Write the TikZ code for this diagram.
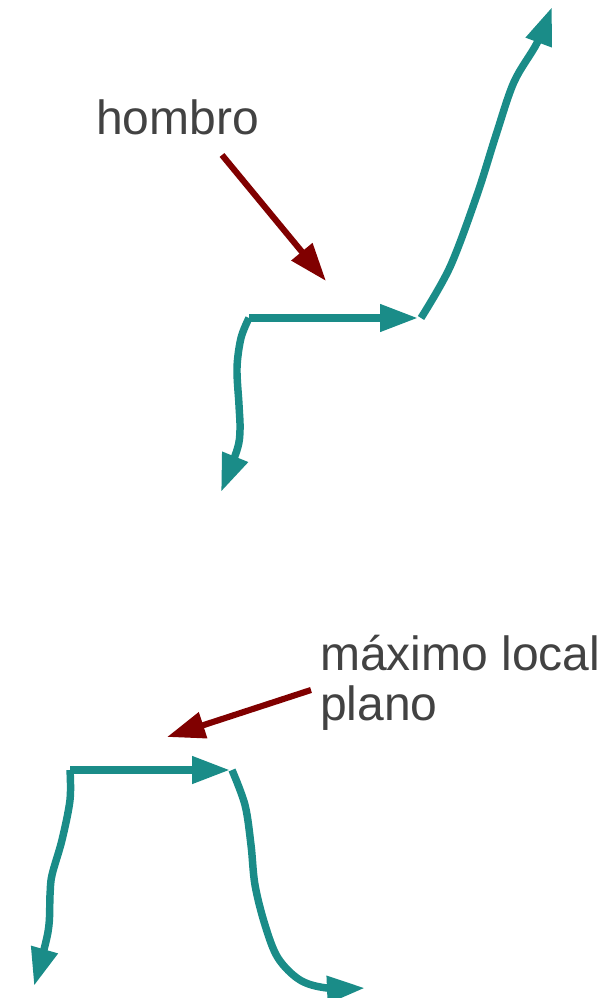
\documentclass[tikz,border=0pt]{standalone}
\usepackage{fontspec}
\setmainfont{Liberation Sans}
\usetikzlibrary{arrows.meta}
\definecolor{curveteal}{HTML}{1A8C88}
\definecolor{pointerred}{HTML}{800000}
\definecolor{labelgray}{HTML}{424242}
\tikzset{
  curve/.style={draw=curveteal, line width=5.6pt, line join=round,
    -{Triangle[length=28.5pt, width=19.5pt]}},
  pointer/.style={draw=pointerred, line width=4.6pt,
    -{Triangle[length=28.5pt, width=19.5pt]}},
  label/.style={text=labelgray, inner sep=0pt, align=left,
    font=\fontsize{36}{37}\selectfont},
}
\begin{document}
\begin{tikzpicture}[x=0.75pt, y=-0.75pt]
  \useasboundingbox (0,0) rectangle (612,998);
  \clip (0,0) rectangle (612,998);

  % ---- upper profile: shoulder ----
  \coordinate (s1) at (249,318);
  \coordinate (s2) at (418,318);
  \coordinate (s3) at (421,318);
  \draw[curve] plot[smooth, tension=0.55] coordinates
    {(s1) (241,338) (237,368) (239,405) (240,430) (237,450) (221,492)};
  \draw[curve] (s1) -- (s2);
  \draw[curve] plot[smooth, tension=0.55] coordinates
    {(s3) (450,267) (477,195) (496,135) (514,82) (537,43) (552,7)};

  \node[label, anchor=base west] (hombro) at (96,135) {hombro};
  \coordinate (h1) at (222,155);
  \coordinate (h2) at (326,281);
  \draw[pointer] (h1) -- (h2);

  % ---- lower profile: flat local maximum ----
  \coordinate (m1) at (70,770);
  \coordinate (m2) at (230,770);
  \coordinate (m3) at (232,770);
  \draw[curve] plot[smooth, tension=0.55] coordinates
    {(m1) (70,800) (62,840) (52,875) (50,895) (48,932) (34,986)};
  \draw[curve] (m1) -- (m2);
  \draw[curve] plot[smooth, tension=0.55] coordinates
    {(m3) (245,805) (251,845) (255,885) (265,925) (278,958) (300,980) (327,988) (365,988)};

  % the base anchor of a two-line node sits on its last line
  \node[label, anchor=base west] (maximo) at (320,720) {máximo local\\plano};
  \coordinate (p1) at (311,690);
  \coordinate (p2) at (167,737);
  \draw[pointer] (p1) -- (p2);
\end{tikzpicture}
\end{document}
